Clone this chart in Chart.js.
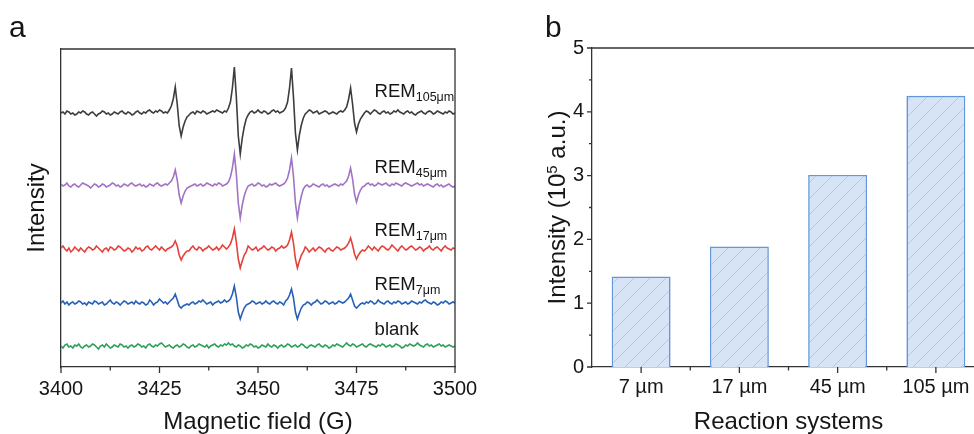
<!DOCTYPE html>
<html>
<head>
<meta charset="utf-8">
<script src="https://cdn.jsdelivr.net/npm/chart.js@4/dist/chart.umd.min.js"></script>
<style>
  html, body { margin: 0; padding: 0; background: #fff; width: 974px; height: 434px; overflow: hidden; }
  canvas { position: absolute; top: 0; }
  #epr { left: 0; }
  #bars { left: 480px; }
</style>
</head>
<body>
<canvas id="epr" width="480" height="434"></canvas>
<canvas id="bars" width="520" height="434"></canvas>
<script>
// ---- panel a: EPR spectra (field sweep 3400-3500 G, 0.5 G per point) ----
const fieldStart = 3400;
const fieldStep = 0.5;
const fieldTicks = [3400, 3425, 3450, 3475, 3500];

const rem105 = [
  0,1,-1,2,1,-1,0,-2,-1,1,0,2,1,-1,-2,0,1,-1,-3,-1,
  0,2,1,-1,0,-2,-1,1,0,-1,1,2,0,-1,1,0,-2,-1,1,2,
  0,-1,1,0,2,3,1,0,2,1,3,2,0,1,0,
  3,7,14,26,9,-13,-23,-14,-8,-4,
  -2,0,1,-1,2,1,0,2,1,-1,0,1,2,1,3,2,1,0,2,1,
  5,11,25,46,16,-23,-41,-25,-14,-6,
  -2,1,2,0,1,3,1,0,2,1,-1,0,2,3,1,2,0,1,2,
  5,11,25,45,16,-20,-37,-22,-12,-5,
  -1,1,3,2,0,1,2,-1,0,1,2,1,-1,0,1,0,-1,1,2,1,
  3,6,14,25,9,-10,-19,-11,-6,-3,
  0,2,1,-1,1,3,2,0,-1,1,2,0,1,-1,0,2,1,3,1,0,-1,1,2,0,1,-1,-2,0,1,2,0,-1,1,2,1,-1,0,2,1,0,-1,1,0,2,1,-1,0
];
const rem45 = [
  1,-1,0,2,-1,-2,0,1,-1,-2,0,2,1,0,-1,-3,-1,1,0,-2,
  -1,1,0,-2,-1,0,2,1,-1,0,-2,-1,1,0,-1,1,2,0,-1,0,
  1,-1,0,-2,-1,1,0,-1,1,2,0,-1,0,1,0,
  2,4,8,15,5,-10,-18,-11,-6,-3,
  -2,-1,0,1,-1,0,1,-1,0,2,1,0,-1,1,0,2,1,-1,0,1,
  3,8,17,31,11,-18,-33,-20,-11,-5,
  -1,0,1,-1,0,2,1,-1,0,-2,-1,1,0,1,2,0,-1,0,1,
  3,7,15,27,9,-18,-33,-20,-11,-4,
  -1,0,-2,-1,1,0,-1,-2,0,1,-1,0,-2,-1,0,1,0,-1,1,0,
  2,4,9,17,6,-9,-17,-10,-5,-2,
  -1,1,2,0,1,-1,0,2,1,0,1,2,0,-1,1,0,2,1,0,-1,1,2,1,0,-1,0,1,2,0,1,-1,0,1,0,-1,-2,0,1,-1,0,-2,-1,0,1,-1,-2,-1
];
const rem17 = [
  1,3,0,-2,1,-3,-1,2,0,-2,1,-1,-3,0,2,1,-1,0,3,1,
  -1,-3,0,1,-2,2,1,-1,0,3,2,0,-2,-1,1,0,-3,-1,2,0,
  1,-2,-1,2,3,0,-1,1,3,1,-1,2,0,-2,0,
  1,2,4,8,3,-6,-11,-7,-4,-2,
  -2,1,3,0,-1,2,1,-2,0,1,3,1,-1,0,2,-1,1,4,2,0,
  2,5,11,20,7,-10,-19,-12,-6,-3,
  3,1,-1,0,2,-2,0,1,3,1,-1,0,2,1,-2,0,1,3,1,
  2,4,9,17,6,-10,-19,-12,-6,-3,
  2,0,-3,-1,1,-2,0,2,1,-1,-3,0,1,-1,-2,0,2,1,-1,0,
  1,3,6,11,4,-5,-10,-6,-3,-1,
  -2,0,3,1,-1,2,0,-2,1,3,2,0,-1,1,4,2,0,-2,1,3,1,-1,0,2,3,1,-1,0,2,1,-2,0,1,3,0,-1,1,2,0,-2,1,3,1,0,-1,1,0
];
const rem7 = [
  0,2,-1,1,-2,0,1,-1,0,2,1,-1,0,-2,1,0,-1,2,1,-1,
  0,1,-2,-1,1,3,0,-1,1,0,-2,0,2,1,-1,0,1,-1,2,0,
  -1,1,0,-2,-1,3,1,-2,0,1,4,2,0,1,-1,
  1,3,5,9,3,-3,-5,-3,-2,-1,
  -2,0,1,-1,0,2,1,3,1,-1,0,1,-2,0,1,2,0,1,3,1,
  2,4,9,17,6,-9,-16,-10,-5,-2,
  -1,0,2,1,-1,0,1,-1,0,2,0,-1,1,2,0,-1,1,0,-2,
  2,4,8,14,5,-9,-16,-10,-5,-2,
  -1,1,0,-2,0,1,3,1,-1,0,2,1,-1,0,1,-1,0,2,1,0,
  1,3,5,9,3,-3,-5,-3,-1,0,
  -1,1,0,2,1,-1,0,3,1,0,-1,1,2,0,-1,1,0,2,1,-1,0,1,-1,0,2,1,0,-1,1,0,2,3,1,0,-1,1,0,-2,-1,1,0,2,1,-1,0,1,0
];
const blank = [
  0,-2,1,2,-1,0,-2,1,0,2,-1,-2,0,1,-1,0,2,1,-1,-3,0,1,-1,2,0,-2,-1,1,0,-1,2,1,-1,0,-2,0,1,-1,0,2,
  1,-1,0,-2,1,2,0,-1,1,0,2,3,1,-1,0,1,-1,-2,0,1,-1,0,2,1,-1,-2,0,1,-1,0,2,1,0,-1,1,-2,0,1,2,0,
  -1,1,0,2,1,3,1,2,0,-1,1,0,-2,-1,1,0,2,1,-1,0,-2,-1,1,0,-1,2,0,-1,1,0,-2,0,1,-1,0,2,1,-1,0,1,
  -1,0,2,1,-1,-2,0,1,0,-1,1,2,0,-1,1,0,-2,-1,1,0,2,1,0,-1,1,3,1,0,2,1,-1,0,1,2,0,-1,1,2,1,0,
  -1,1,0,2,1,-1,0,1,-1,0,2,1,0,-2,-1,1,0,2,1,0,1,3,1,0,-1,1,2,0,1,-1,0,1,2,0,1,-1,0,1,0,-1,0
];

// traces top to bottom, with their vertical stacking offsets
const spectra = [rem105, rem45, rem17, rem7, blank];
const offsets = [254, 182, 118, 64, 21];
const sampleNames = ['REM', 'REM', 'REM', 'REM', 'blank'];
const sampleSubs = ['105μm', '45μm', '17μm', '7μm', ''];
const traceColors = ['#3d3d3d', '#a173c4', '#e5413b', '#2660b8', '#2f9f5c'];

// ---- panel b: integrated intensity per reaction system ----
const sizes = ['7 µm', '17 µm', '45 µm', '105 µm'];
const intensity = [1.42, 1.89, 3.01, 4.25];
const intensityTicks = [0, 1, 2, 3, 4, 5];

const FONT = '"Liberation Sans", Arial, sans-serif';
const ink = '#161616';
const frameColor = '#333';
Chart.defaults.font.family = FONT;
Chart.defaults.color = ink;

// box lines on top/right plus outward major/minor tick marks
function frameWithTicks(marks, letter) {
  return {
    id: 'frameWithTicks',
    afterDraw(chart) {
      const { ctx, chartArea: a } = chart;
      const m = marks(chart);
      ctx.save();
      ctx.strokeStyle = frameColor;
      ctx.lineWidth = 1.3;
      ctx.beginPath();
      ctx.moveTo(a.left, a.top);
      ctx.lineTo(a.right, a.top);
      ctx.lineTo(a.right, a.bottom);
      m.x.forEach(([px, len]) => { ctx.moveTo(px, a.bottom); ctx.lineTo(px, a.bottom + len); });
      m.y.forEach(([py, len]) => { ctx.moveTo(a.left, py); ctx.lineTo(a.left - len, py); });
      ctx.stroke();
      ctx.fillStyle = ink;
      ctx.font = '30px ' + FONT;
      ctx.textBaseline = 'alphabetic';
      ctx.fillText(letter.text, letter.x, letter.y);
      ctx.restore();
    }
  };
}

// draws a run of text pieces with their own size and baseline shift
function drawRuns(ctx, x, y, runs) {
  runs.forEach(r => {
    ctx.font = r.size + 'px ' + FONT;
    ctx.fillText(r.text, x, y + (r.dy || 0));
    x += ctx.measureText(r.text).width;
  });
}

const labelField = 3479.6;
const labelLift = [16, 12, 13, 13, 11];

const traceLabels = {
  id: 'traceLabels',
  afterDraw(chart) {
    const { ctx, scales: { x, y } } = chart;
    ctx.save();
    ctx.fillStyle = ink;
    ctx.textBaseline = 'alphabetic';
    sampleNames.forEach((name, k) => {
      const px = x.getPixelForValue(labelField);
      const py = y.getPixelForValue(offsets[k]) - labelLift[k];
      const runs = [{ text: name, size: 18.5 }];
      if (sampleSubs[k]) runs.push({ text: sampleSubs[k], size: 12.5, dy: 3.5 });
      drawRuns(ctx, px, py, runs);
    });
    ctx.restore();
  }
};

new Chart(document.getElementById('epr'), {
  type: 'line',
  data: {
    datasets: spectra.map((vals, k) => ({
      data: vals.map((v, i) => ({ x: fieldStart + i * fieldStep, y: v + offsets[k] })),
      borderColor: traceColors[k],
      borderWidth: 1.6,
      pointRadius: 0,
      tension: 0,
      fill: false
    }))
  },
  options: {
    responsive: false,
    animation: false,
    layout: { padding: { top: 49, right: 25, left: 0, bottom: 0 } },
    plugins: { legend: { display: false }, tooltip: { enabled: false } },
    scales: {
      x: {
        type: 'linear',
        min: fieldTicks[0],
        max: fieldTicks[fieldTicks.length - 1],
        afterBuildTicks: s => { s.ticks = fieldTicks.map(v => ({ value: v })); },
        ticks: { font: { size: 20 }, color: ink, padding: 2, maxRotation: 0, callback: v => String(v) },
        grid: { display: false },
        border: { color: frameColor, width: 1.3 },
        title: { display: true, text: 'Magnetic field (G)', font: { size: 24 }, color: ink, padding: { top: 0, bottom: -3 } },
        afterFit: s => { s.height = 67; s.paddingLeft = 0; s.paddingRight = 0; }
      },
      y: {
        min: 0,
        max: 318,
        ticks: { display: false },
        grid: { display: false },
        border: { color: frameColor, width: 1.3 },
        title: { display: true, text: 'Intensity', font: { size: 24 }, color: ink, padding: { top: 23 } },
        afterFit: s => { s.width = 61; }
      }
    }
  },
  plugins: [
    frameWithTicks(chart => {
      const x = chart.scales.x;
      const xs = fieldTicks.map(v => [x.getPixelForValue(v), 6]);
      for (let i = 1; i < fieldTicks.length; i++) {
        xs.push([x.getPixelForValue((fieldTicks[i - 1] + fieldTicks[i]) / 2), 3.5]);
      }
      return { x: xs, y: [] };
    }, { text: 'a', x: 9, y: 37 }),
    traceLabels
  ]
});

// light blue fill with thin "/" hatching
function hatchPattern() {
  const s = 16;
  const c = document.createElement('canvas');
  c.width = s; c.height = s;
  const g = c.getContext('2d');
  g.fillStyle = '#d6e4f5';
  g.fillRect(0, 0, s, s);
  g.strokeStyle = 'rgba(120,160,220,0.5)';
  g.lineWidth = 0.8;
  g.beginPath();
  g.moveTo(0, s); g.lineTo(s, 0);
  g.moveTo(-1, 1); g.lineTo(1, -1);
  g.moveTo(s - 1, s + 1); g.lineTo(s + 1, s - 1);
  g.stroke();
  return g.createPattern(c, 'repeat');
}

// y title with a superscript exponent
const barTitle = {
  id: 'barTitle',
  afterDraw(chart) {
    const { ctx, chartArea: a } = chart;
    const runs = [
      { text: 'Intensity (10', size: 24 },
      { text: '5', size: 15, dy: -8 },
      { text: ' a.u.)', size: 24 }
    ];
    ctx.save();
    let w = 0;
    runs.forEach(r => { ctx.font = r.size + 'px ' + FONT; w += ctx.measureText(r.text).width; });
    ctx.translate(85, (a.top + a.bottom) / 2);
    ctx.rotate(-Math.PI / 2);
    ctx.fillStyle = ink;
    ctx.textBaseline = 'alphabetic';
    drawRuns(ctx, -w / 2, 0, runs);
    ctx.restore();
  }
};

new Chart(document.getElementById('bars'), {
  type: 'bar',
  data: {
    labels: sizes,
    datasets: [{
      data: intensity,
      backgroundColor: hatchPattern(),
      borderColor: '#6397da',
      borderWidth: 1.6,
      barPercentage: 0.6,
      categoryPercentage: 1
    }]
  },
  options: {
    responsive: false,
    animation: false,
    layout: { padding: { top: 48, right: 15, left: 0, bottom: 0 } },
    plugins: { legend: { display: false }, tooltip: { enabled: false } },
    scales: {
      x: {
        ticks: { font: { size: 20 }, color: ink, padding: 0, maxRotation: 0 },
        grid: { display: false },
        border: { color: frameColor, width: 1.3 },
        title: { display: true, text: 'Reaction systems', font: { size: 24 }, color: ink, padding: { top: 0, bottom: -3 } },
        afterFit: s => { s.height = 67; }
      },
      y: {
        min: 0,
        max: 5,
        afterBuildTicks: s => { s.ticks = intensityTicks.map(v => ({ value: v })); },
        ticks: { font: { size: 20 }, color: ink, padding: 0, callback: v => String(v) },
        grid: { display: false },
        border: { color: frameColor, width: 1.3 },
        afterFit: s => { s.width = 112; }
      }
    }
  },
  plugins: [
    frameWithTicks(chart => {
      const { x, y } = chart.scales;
      const xs = sizes.map((_, i) => [x.getPixelForValue(i), 6]);
      for (let i = 1; i < sizes.length; i++) {
        xs.push([(x.getPixelForValue(i - 1) + x.getPixelForValue(i)) / 2, 3.5]);
      }
      const ys = intensityTicks.map(v => [y.getPixelForValue(v), 5]);
      for (let i = 1; i < intensityTicks.length; i++) {
        ys.push([y.getPixelForValue((intensityTicks[i - 1] + intensityTicks[i]) / 2), 3]);
      }
      return { x: xs, y: ys };
    }, { text: 'b', x: 65, y: 37 }),
    barTitle
  ]
});
</script>
</body>
</html>
